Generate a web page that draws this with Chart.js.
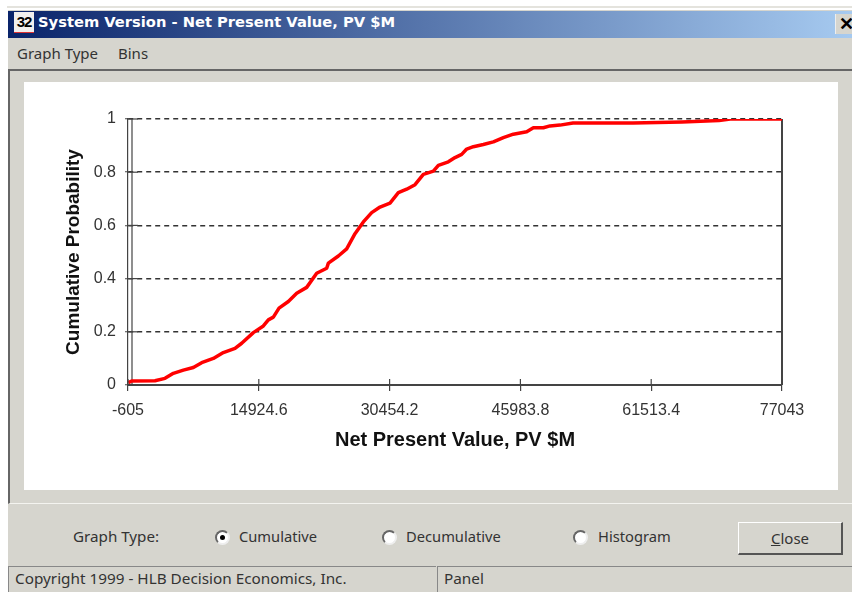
<!DOCTYPE html>
<html><head><meta charset="utf-8">
<style>
html,body{margin:0;padding:0;background:#fff;width:852px;height:592px;overflow:hidden}
#topline{position:absolute;left:7px;top:6px;width:845px;height:2px;background:#e4e3dd}
#win{position:absolute;left:8px;top:10px;width:844px;height:582px;background:#d6d5ce;font-family:"Noto Sans",sans-serif;color:#333;filter:blur(0.35px)}
#win div,#win span{position:absolute;white-space:nowrap}
#bar{left:0;top:1px;width:844px;height:27px;background:linear-gradient(90deg,#0a246a,#a6caf0)}
#ttl{left:30px;top:3px;color:#fff;font-weight:700;font-size:14.7px;font-family:"DejaVu Sans"}
#ico{left:6px;top:2px;width:20px;height:20px;background:#f2f0ee;color:#000;font:700 15px/20px "Liberation Sans";text-align:center;letter-spacing:-1px;border-bottom:1px solid #d33}
#x{right:0;top:4px;width:17px;height:20px;background:#d6d5ce;border-left:1px solid #eee;color:#000;font:700 18px/20px "Liberation Sans";padding-left:3px;box-sizing:border-box;overflow:hidden}
.m{top:33px;font-size:15px}
#frame{left:0;top:59px;width:844px;height:435px;border-top:2px solid #666;border-left:2px solid #666;border-bottom:1px solid #f4f4f0;box-sizing:border-box}
#panel{left:16px;top:72px;width:814px;height:408px;background:#fff}
canvas{position:absolute;left:16px;top:72px}
.t{font-size:14.7px;top:516px}
.rad{top:520px;width:15px;height:15px;border-radius:50%;background:#fff;border:2px solid;border-color:#666 #eee #eee #666;box-sizing:border-box}
.rad.on::after{content:"";position:absolute;left:3px;top:3px;width:5px;height:5px;border-radius:50%;background:#000}
#close{left:730px;top:512px;width:105px;height:33px;box-sizing:border-box;border:1px solid #fff;border-right:2px solid #555;border-bottom:2px solid #555;text-align:center;font-size:15px;line-height:30px}
.st{top:556px;height:26px;border-top:1px solid #888;border-left:1px solid #888;box-sizing:border-box;font-size:15.3px;line-height:23px;padding-left:6px}
</style></head><body>
<div id="topline"></div>
<div id="win">
<div id="bar"></div>
<div id="ico">32</div>
<div id="ttl">System Version - Net Present Value, PV $M</div>
<div id="x">✕</div>
<span class="m" style="left:9px">Graph Type</span>
<span class="m" style="left:110px">Bins</span>
<div id="frame"></div>
<div id="panel"></div>
<canvas id="c" width="814" height="408" style="width:814px;height:408px"></canvas>
<span class="t" style="left:65px;font-size:15.2px">Graph Type:</span>
<div class="rad on" style="left:207px"></div><span class="t" style="left:231px">Cumulative</span>
<div class="rad" style="left:374px"></div><span class="t" style="left:398px">Decumulative</span>
<div class="rad" style="left:565px"></div><span class="t" style="left:590px">Histogram</span>
<div id="close"><u>C</u>lose</div>
<div class="st" style="left:0;width:428px">Copyright 1999 - HLB Decision Economics, Inc.</div>
<div class="st" style="left:429px;width:415px">Panel</div>
</div>
<script src="https://cdn.jsdelivr.net/npm/chart.js@4"></script>
<script>
const xTickValues=[-605,14924.6,30454.2,45983.8,61513.4,77043];
const yTickValues=[0,0.2,0.4,0.6,0.8,1];
const netPresentValue=[-565,-169,2601,3789,4778,5966,7153,8142,9528,10715,12100,12892,14277,15465,16058,16652,17325,18433,19423,20610,21798,22985,23183,24370,25358,26347,27337,28326,29316,30503,31493,32482,33472,34461,35652,36242,37430,38221,39013,39606,40398,41585,42773,43960,45148,46730,47522,48710,49502,50689,52230,59350,65170,69560,70900,77043];
const cumulativeProbability=[0.009,0.015,0.016,0.025,0.044,0.056,0.066,0.084,0.100,0.122,0.138,0.157,0.197,0.222,0.245,0.255,0.289,0.314,0.345,0.367,0.420,0.439,0.458,0.485,0.512,0.569,0.613,0.648,0.669,0.684,0.723,0.736,0.753,0.792,0.804,0.826,0.839,0.855,0.867,0.887,0.896,0.904,0.914,0.930,0.943,0.952,0.967,0.967,0.974,0.977,0.985,0.985,0.989,0.994,1,1];
const innerAxisX=[-130,-130];
const rightEdgeX=[77043,77043];
const verticalSpanY=[0,1];
const axisColor='#444';
const axisStubs={id:'axisStubs',afterDatasetsDraw(chart){
  const {ctx,scales:{x,y}}=chart;
  ctx.save();ctx.strokeStyle=axisColor;ctx.setLineDash([]);ctx.lineWidth=1.2;
  yTickValues.forEach(v=>{const p=y.getPixelForValue(v);ctx.beginPath();ctx.moveTo(x.left,p);ctx.lineTo(x.left+10,p);ctx.stroke();});
  xTickValues.forEach(v=>{const p=x.getPixelForValue(v);ctx.beginPath();ctx.moveTo(p,y.bottom);ctx.lineTo(p,y.bottom-6);ctx.stroke();});
  ctx.restore();
}};
new Chart(document.getElementById('c'),{
 type:'line',
 plugins:[axisStubs],
 data:{datasets:[
  {label:'Inner axis',data:innerAxisX.map((x,i)=>({x,y:verticalSpanY[i]})),borderColor:axisColor,borderWidth:1.2,pointRadius:0},
  {label:'Right edge',data:rightEdgeX.map((x,i)=>({x,y:verticalSpanY[i]})),borderColor:axisColor,borderWidth:2,pointRadius:0,clip:false},
  {label:'Cumulative Probability',data:netPresentValue.map((x,i)=>({x,y:cumulativeProbability[i]})),borderColor:'#ff0000',borderWidth:3.5,pointRadius:0,tension:0,borderJoinStyle:'round',order:-1}
 ]},
 options:{
  responsive:false,animation:false,devicePixelRatio:1,
  plugins:{legend:{display:false},tooltip:{enabled:false}},
  layout:{padding:{top:37,right:56,bottom:0,left:0}},
  scales:{
   x:{type:'linear',min:-605,max:77043,
    afterBuildTicks:a=>{a.ticks=xTickValues.map(value=>({value}))},
    afterFit:a=>{a.height=105},
    ticks:{callback:v=>String(v),maxRotation:0,autoSkip:false,color:'#333',font:{family:'Liberation Sans',size:16},padding:10},
    grid:{drawOnChartArea:false,drawTicks:true,tickLength:6,color:axisColor,lineWidth:1.2},
    border:{color:axisColor,width:2},
    title:{display:true,text:'Net Present Value, PV $M',color:'#111',font:{family:'Liberation Sans',size:20,weight:'bold'},padding:{top:6,bottom:38}}},
   y:{type:'linear',min:0,max:1,
    afterBuildTicks:a=>{a.ticks=yTickValues.map(value=>({value}))},
    afterFit:a=>{a.width=104},
    ticks:{callback:v=>String(v),color:'#333',font:{family:'Liberation Sans',size:16},padding:9},
    grid:{color:'#333',lineWidth:1.5,tickLength:3,tickColor:axisColor,tickWidth:1.2,tickBorderDash:[]},
    border:{color:axisColor,width:1.2,dash:[5,4]},
    title:{display:true,text:'Cumulative Probability',color:'#111',font:{family:'Liberation Sans',size:19,weight:'bold'},padding:{top:38,bottom:0}}}
  }
 }
});
</script>
</body></html>
